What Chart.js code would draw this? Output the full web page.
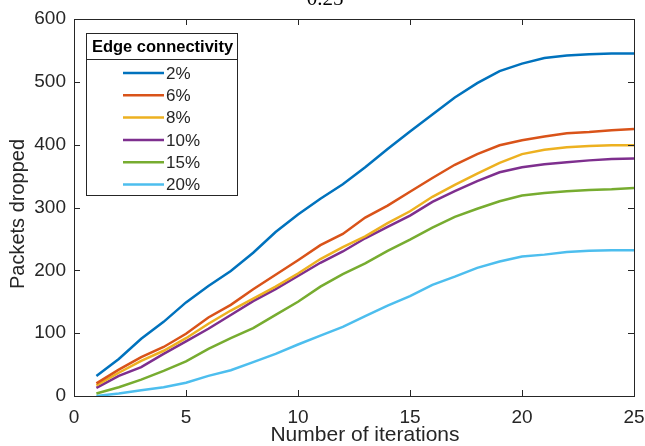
<!DOCTYPE html>
<html><head><meta charset="utf-8">
<script src="https://cdn.jsdelivr.net/npm/chart.js@4.4.0/dist/chart.umd.min.js"></script>
<style>html,body{margin:0;padding:0;background:#fff}#wrap{width:645px;height:446px}</style>
</head><body><div id="wrap"><canvas id="c" width="645" height="446"></canvas></div>
<script>
const iterations = Array.from({length:25},(_,i)=>i+1);
const seriesLabels = ['2%','6%','8%','10%','15%','20%'];
const s2  = [32,59,91,118,149,175,199,228,261,289,314,337,364,393,421,448,475,498,517,529,538,542,544,545,545];
const s6  = [20,42,62,78,99,125,145,170,193,216,240,258,284,303,325,347,368,385,399,407,413,418,420,423,425];
const s8  = [17,37,56,72,92,115,136,155,174,195,218,237,254,275,294,317,336,354,371,385,392,396,398,399,399];
const s10 = [13,32,46,67,87,107,129,151,170,191,212,230,251,269,287,309,326,342,356,364,369,372,375,377,378];
const s15 = [4,14,26,40,55,75,92,108,129,150,174,194,211,231,249,268,285,298,310,319,323,326,328,329,331];
const s20 = [0,4,9,14,21,32,41,54,67,82,96,110,127,144,159,177,190,204,214,222,225,229,231,232,232];
const xTicks = [0,5,10,15,20,25];
const yTicks = [0,100,200,300,400,500,600];
const colors = ['#0072BD','#D95319','#EDB120','#7E2F8E','#77AC30','#4DBEEE'];
const allSeries = [s2,s6,s8,s10,s15,s20];
const xTitle = 'Number of iterations';
const yTitle = 'Packets dropped';
const legendTitle = 'Edge connectivity';
const plotTitle = '0.25';

const FONT = "'Liberation Sans', Arial, sans-serif";
const AX = '#262626';

const boxPlugin = {
  id:'box',
  afterDraw(chart){
    const {ctx, chartArea:a, scales:{x,y}} = chart;
    ctx.save();
    ctx.strokeStyle = AX; ctx.lineWidth = 1;
    ctx.strokeRect(a.left+0.5, a.top+0.5, a.right-a.left, a.bottom-a.top);
    const tl = 6;
    ctx.beginPath();
    xTicks.forEach(v=>{
      const px = Math.round(x.getPixelForValue(v))+0.5;
      ctx.moveTo(px,a.bottom); ctx.lineTo(px,a.bottom-tl);
      ctx.moveTo(px,a.top); ctx.lineTo(px,a.top+tl);
    });
    yTicks.forEach(v=>{
      const py = Math.round(y.getPixelForValue(v))+0.5;
      ctx.moveTo(a.left,py); ctx.lineTo(a.left+tl,py);
      ctx.moveTo(a.right,py); ctx.lineTo(a.right-tl,py);
    });
    ctx.stroke();
    // title (cut off at top)
    ctx.fillStyle = '#000';
    ctx.font = "21px 'Liberation Serif', 'Times New Roman', serif";
    ctx.textAlign = 'center'; ctx.textBaseline = 'alphabetic';
    ctx.fillText(plotTitle, 325, 5);
    // axis titles
    ctx.fillStyle = AX;
    ctx.font = "21px " + FONT;
    ctx.textBaseline = 'middle';
    ctx.fillText(xTitle, 365, 435);
    ctx.save();
    ctx.translate(18, 214); ctx.rotate(-Math.PI/2);
    ctx.font = "20px " + FONT;
    ctx.fillText(yTitle, 0, 0);
    ctx.restore();
    // legend
    const L = 86, R = 237, T = 33, D = 59, B = 195;
    ctx.fillStyle = '#fff';
    ctx.fillRect(L, T, R-L, B-T);
    ctx.strokeStyle = '#262626'; ctx.lineWidth = 1;
    ctx.strokeRect(L+0.5, T+0.5, R-L, B-T);
    ctx.beginPath(); ctx.moveTo(L, D+0.5); ctx.lineTo(R, D+0.5); ctx.stroke();
    ctx.fillStyle = '#000';
    ctx.font = "bold 16.5px " + FONT;
    ctx.textAlign = 'center'; ctx.textBaseline = 'middle';
    ctx.fillText(legendTitle, (L+R)/2 + 1, (T+D)/2+1);
    ctx.font = "17px " + FONT;
    ctx.textAlign = 'left';
    chart.data.datasets.forEach((ds,i)=>{
      const yy = 73 + i*22.3;
      ctx.strokeStyle = ds.borderColor; ctx.lineWidth = 2.5;
      ctx.beginPath(); ctx.moveTo(123, yy); ctx.lineTo(164, yy); ctx.stroke();
      ctx.fillStyle = AX;
      ctx.fillText(ds.label, 166, yy+1);
    });
    ctx.restore();
  }
};

new Chart(document.getElementById('c'), {
  type:'line',
  data:{
    labels: iterations,
    datasets: allSeries.map((d,i)=>({
      label: seriesLabels[i],
      data: d.map((v,j)=>({x:iterations[j], y:v})),
      borderColor: colors[i], backgroundColor: colors[i],
      borderWidth: 2.5, pointRadius: 0, tension: 0, fill:false
    }))
  },
  options:{
    responsive:false, animation:false,
    layout:{padding:{left:0,right:11,top:19,bottom:0}},
    plugins:{legend:{display:false}, tooltip:{enabled:false}, title:{display:false}},
    scales:{
      x:{
        type:'linear', min:0, max:25,
        afterBuildTicks(s){ s.ticks = xTicks.map(v=>({value:v})); },
        grid:{display:false, drawTicks:false},
        border:{display:false},
        ticks:{color:AX, font:{family:FONT, size:19}, padding:10, maxRotation:0},
        title:{display:false},
        afterFit(s){ s.height = 50; s.paddingLeft = 0; s.paddingRight = 0; }
      },
      y:{
        min:0, max:600,
        afterBuildTicks(s){ s.ticks = yTicks.map(v=>({value:v})); },
        grid:{display:false, drawTicks:false},
        border:{display:false},
        ticks:{color:AX, font:{family:FONT, size:19}, padding:8},
        title:{display:false},
        afterFit(s){ s.width = 74; s.paddingTop = 0; s.paddingBottom = 0; }
      }
    }
  },
  plugins:[boxPlugin]
});
</script>
</body></html>
